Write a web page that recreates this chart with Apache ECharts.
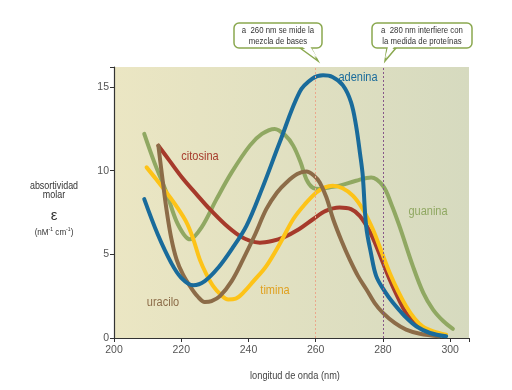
<!DOCTYPE html>
<html><head><meta charset="utf-8">
<script src="https://cdn.jsdelivr.net/npm/echarts@6/dist/echarts.min.js"></script>
<style>html,body{margin:0;padding:0;background:#fff}#c{width:512px;height:390px}</style>
</head><body><div id="c"></div>
<script>
var xTicks = [200, 220, 240, 260, 280, 300];
var yTicks = [0, 5, 10, 15];
var adenina = [[209,8.3],[213,6.2],[217,4.5],[220,3.6],[223.6,3.15],[227,3.4],[231,4.2],[235,5.3],[239.4,6.7],[244,8.9],[249.3,11.7],[255.2,14.7],[259,15.5],[262.2,15.7],[265,15.6],[268.1,15.1],[270.5,14.1],[272,12.7],[273.2,11],[274,9.7],[275,6.7],[276.5,5],[278,3.7],[280.5,2.8],[283,2.1],[286.5,1.3],[289.9,0.7],[294,0.3],[298.8,0.1]];
var guanina = [[209,12.2],[212,10.5],[215.6,8.7],[219,6.8],[222.6,5.9],[226,6.6],[230.5,8.3],[235,9.9],[240.4,11.5],[244,12.2],[247.8,12.5],[251,12.1],[253.3,11.5],[255.5,10.5],[257.2,9.5],[259,9.0],[261.2,8.9],[264,9.0],[267.1,9.1],[272,9.4],[276.5,9.6],[280,9.1],[282.5,8.0],[284.9,6.7],[288.9,4.3],[292,2.7],[294.9,1.7],[298,1.0],[300.8,0.55]];
var citosina = [[213.2,11.5],[216.5,10.6],[220.6,9.5],[224.5,8.6],[228.5,7.7],[233,6.8],[237.4,6.1],[240.5,5.8],[243.4,5.7],[247,5.8],[250.3,6.0],[255,6.5],[259.2,7.1],[263,7.6],[267.1,7.8],[270.5,7.7],[273.1,7.3],[276,6.4],[278,5.5],[280,4.5],[282,3.5],[284.5,2.4],[286.9,1.5],[289.5,0.9],[292.8,0.5],[295.5,0.3],[297.8,0.14]];
var uracilo = [[213.2,11.5],[214.3,9.7],[215.6,7.7],[217,6.0],[218.6,4.7],[220.5,3.8],[222.6,3.1],[224.8,2.5],[227,2.15],[229,2.2],[231.5,2.5],[235,3.4],[238.4,4.7],[242,6.2],[245.3,7.7],[248.5,8.7],[251.3,9.3],[254.5,9.8],[257.2,9.95],[259.5,9.7],[261.2,9.3],[263.2,8.4],[265.2,7.1],[267.7,5.8],[270.1,4.7],[272.6,3.7],[275.1,2.9],[277.5,2.1],[280,1.5],[283.5,0.9],[286.9,0.5],[291,0.25],[296.8,0.1]];
var timina = [[209.7,10.2],[212.5,9.5],[215.6,8.7],[218.5,7.9],[221.6,6.9],[223.6,5.9],[225.5,4.7],[227.5,3.8],[229.5,3.1],[231.7,2.6],[234,2.3],[236.2,2.35],[238.4,2.7],[241.5,3.4],[245.3,4.3],[249.5,5.7],[253.3,7.1],[256.8,8.0],[260.2,8.7],[262.7,9.0],[265.1,9.1],[268,8.95],[271.1,8.5],[274,7.7],[277,6.5],[279.5,5.2],[282,3.9],[284.5,2.8],[286.9,1.9],[289.3,1.2],[291.8,0.7],[295,0.4],[298.8,0.2]];

var FONT = "'Liberation Sans',Arial,sans-serif";
var chart = echarts.init(document.getElementById('c'), null, {renderer:'canvas'});

function ser(name, data, color){
  return {name:name, type:'line', data:data, smooth:0.35, symbol:'none',
    lineStyle:{color:color, width:4, cap:'round'}, z:3, animation:false};
}
var series = [
  ser('guanina', guanina, '#90a862'),
  ser('citosina', citosina, '#a63a2b'),
  ser('timina', timina, '#fdc318'),
  ser('uracilo', uracilo, '#8c6c48'),
  ser('adenina', adenina, '#196b9b')
];
series[0].markLine = {silent:true, symbol:'none', label:{show:false}, animation:false,
  data:[
    {xAxis:260, lineStyle:{color:'#eba88c', type:[2,2], width:1}},
    {xAxis:280, lineStyle:{color:'#86578a', type:[2,2], width:1}}
  ]};

function txt(x, y, s, color, size, sx, extra){
  var st = {text:s, font:size+'px '+FONT, fill:color, align:'center', verticalAlign:'middle'};
  if (extra) for (var k in extra) st[k] = extra[k];
  return {type:'text', x:x, y:y, scaleX:sx, style:st, z:20};
}
function callout(x, y, w, h, tail, lines){
  return [
    {type:'polygon', shape:{points:tail}, style:{fill:'#fff', stroke:'#8aa84f', lineWidth:1.5}, z:10},
    {type:'rect', shape:{x:x, y:y, width:w, height:h, r:5}, style:{fill:'#fff', stroke:'#8aa84f', lineWidth:1.5}, z:11},
    {type:'polygon', shape:{points:[[tail[0][0]+1.2,tail[0][1]-2],[tail[1][0],tail[1][1]-2.5],[tail[2][0]-1.2,tail[2][1]-2]]}, style:{fill:'#fff'}, z:12},
    txt(x+w/2, y+h/2+0.5, lines, '#333', 9.5, 0.82, {lineHeight:10.5})
  ];
}
var graphics = [].concat(
  callout(234, 23, 88, 25, [[300,48],[318,61],[311,48]], 'a  260 nm se mide la\nmezcla de bases'),
  callout(372, 23, 100, 25, [[387,48],[385,61],[396,48]], 'a  280 nm interfiere con\nla medida de proteínas'),
  [
    txt(358, 78, 'adenina', '#196b9b', 12.5, 0.88),
    txt(200, 157, 'citosina', '#a63a2b', 12.5, 0.88),
    txt(428, 212, 'guanina', '#90a862', 12.5, 0.88),
    txt(163, 303, 'uracilo', '#8c6c48', 12.5, 0.88),
    txt(275, 291, 'timina', '#e0a01e', 12.5, 0.88),
    txt(54, 186.5, 'absortividad', '#333', 10.5, 0.85),
    txt(54, 195.5, 'molar', '#333', 10.5, 0.85),
    txt(54, 216, 'ε', '#333', 15, 1),
    txt(54, 232, '(nM{s|-1} cm{s|-1})', '#333', 9.5, 0.85, {rich:{s:{fontSize:6, fontFamily:'Liberation Sans', fill:'#333', padding:[0,0,5,0]}}}),
    txt(295, 376, 'longitud de onda (nm)', '#444', 10.5, 0.88)
  ]
);

chart.setOption({
  animation:false,
  grid:{left:114, right:43, top:67, bottom:52, show:true, borderWidth:0,
    backgroundColor:{type:'linear', x:0, y:0, x2:1, y2:0, colorStops:[{offset:0,color:'#ebe6c3'},{offset:1,color:'#d6dabf'}]}},
  xAxis:{type:'value', min:200, max:305.6, interval:20,
    axisLine:{show:true, lineStyle:{color:'#333', width:1.2}},
    axisTick:{show:true, length:4, lineStyle:{color:'#333'}},
    splitLine:{show:false},
    axisLabel:{color:'#555', fontSize:10.5, fontFamily:FONT, margin:7,
      formatter:function(v){return xTicks.indexOf(v)>=0 ? String(v) : '';}}},
  yAxis:{type:'value', min:0, max:16.2, interval:5,
    axisLine:{show:true, lineStyle:{color:'#333', width:1.2}},
    axisTick:{show:true, length:4, lineStyle:{color:'#333'}},
    splitLine:{show:false},
    axisLabel:{color:'#555', fontSize:10.5, fontFamily:FONT, margin:5,
      formatter:function(v){return yTicks.indexOf(v)>=0 ? String(v) : '';}}},
  series:series,
  graphic:graphics
});
</script></body></html>
